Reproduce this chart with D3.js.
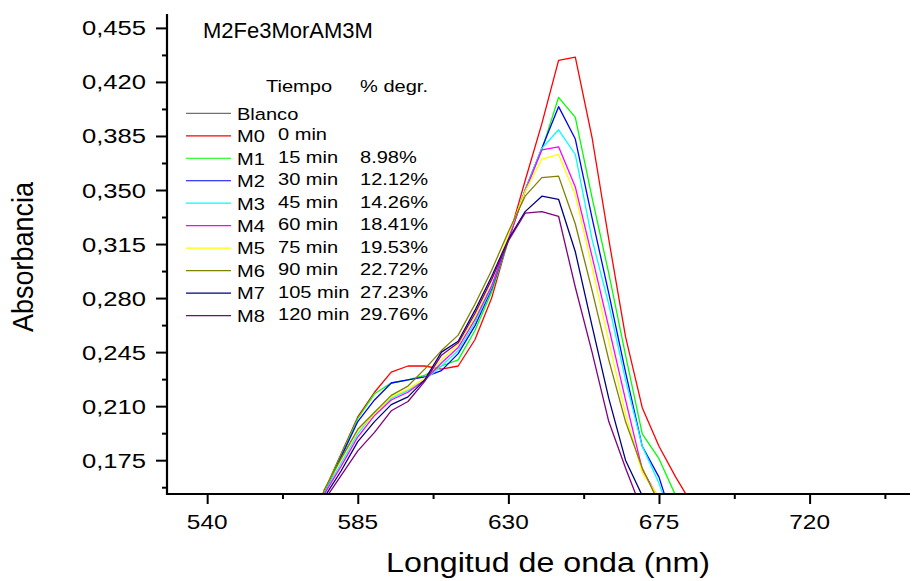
<!DOCTYPE html>
<html>
<head>
<meta charset="utf-8">
<script src="https://cdnjs.cloudflare.com/ajax/libs/d3/7.8.5/d3.min.js"></script>
<style>
  body { margin: 0; background: #fff; }
  text { font-family: "Liberation Sans", Arial, sans-serif; fill: #000; }
</style>
</head>
<body>
<div id="chart"></div>
<script>
// wavelengths (nm) and absorbance of each sample
const wavelengths = [570, 575, 580, 585, 590, 595, 600, 605, 610, 615, 620, 625, 630,
  635, 640, 645, 650, 655, 660, 665, 670, 675, 680, 685, 690];
const m0 = [0.120, 0.155, 0.179, 0.203, 0.219, 0.232, 0.236, 0.236, 0.234, 0.236, 0.253, 0.280, 0.318,
  0.356, 0.393, 0.434, 0.436, 0.384, 0.318, 0.255, 0.209, 0.184, 0.164, 0.146, 0.130];
const m1 = [0.120, 0.155, 0.178, 0.202, 0.218, 0.225, 0.227, 0.230, 0.236, 0.240, 0.259, 0.284, 0.317,
  0.350, 0.376, 0.410, 0.397, 0.345, 0.296, 0.243, 0.192, 0.176, 0.152, 0.130, 0.120];
const m2 = [0.120, 0.154, 0.177, 0.200, 0.214, 0.225, 0.227, 0.229, 0.233, 0.244, 0.262, 0.286, 0.318,
  0.350, 0.377, 0.404, 0.383, 0.332, 0.283, 0.232, 0.184, 0.164, 0.130, 0.120, 0.120];
const m3 = [0.120, 0.154, 0.173, 0.192, 0.206, 0.215, 0.220, 0.227, 0.236, 0.246, 0.264, 0.287, 0.319,
  0.350, 0.377, 0.389, 0.373, 0.318, 0.276, 0.227, 0.184, 0.160, 0.130, 0.120, 0.120];
const m4 = [0.120, 0.153, 0.171, 0.190, 0.204, 0.214, 0.219, 0.227, 0.238, 0.248, 0.266, 0.288, 0.318,
  0.349, 0.376, 0.378, 0.352, 0.307, 0.261, 0.214, 0.169, 0.150, 0.120, 0.120, 0.120];
const m5 = [0.120, 0.156, 0.175, 0.194, 0.205, 0.216, 0.221, 0.228, 0.240, 0.250, 0.268, 0.291, 0.321,
  0.349, 0.370, 0.373, 0.347, 0.300, 0.252, 0.205, 0.167, 0.151, 0.120, 0.120, 0.120];
const m6 = [0.120, 0.156, 0.176, 0.195, 0.206, 0.217, 0.223, 0.234, 0.246, 0.256, 0.276, 0.298, 0.323,
  0.346, 0.358, 0.359, 0.328, 0.285, 0.240, 0.200, 0.170, 0.147, 0.120, 0.120, 0.120];
const m7 = [0.120, 0.151, 0.168, 0.187, 0.200, 0.211, 0.216, 0.227, 0.245, 0.252, 0.272, 0.294, 0.318,
  0.336, 0.346, 0.344, 0.310, 0.262, 0.215, 0.175, 0.152, 0.120, 0.120, 0.120, 0.120];
const m8 = [0.120, 0.149, 0.165, 0.181, 0.193, 0.207, 0.213, 0.226, 0.243, 0.251, 0.270, 0.292, 0.317,
  0.335, 0.336, 0.333, 0.287, 0.245, 0.200, 0.170, 0.142, 0.120, 0.120, 0.120, 0.120];

// legend rows
const labels = ["Blanco", "M0", "M1", "M2", "M3", "M4", "M5", "M6", "M7", "M8"];
const times = ["", "0 min", "15 min", "30 min", "45 min", "60 min", "75 min", "90 min", "105 min", "120 min"];
const degr = ["", "", "8.98%", "12.12%", "14.26%", "18.41%", "19.53%", "22.72%", "27.23%", "29.76%"];
const colors = ["#707070", "#ff0000", "#00ff00", "#0000ff", "#00ffff", "#ff00ff", "#ffff00",
  "#808000", "#000080", "#800080"];

const yTicks = [0.175, 0.21, 0.245, 0.28, 0.315, 0.35, 0.385, 0.42, 0.455];
const xTicks = [540, 585, 630, 675, 720];

const series = [null, m0, m1, m2, m3, m4, m5, m6, m7, m8];

const W = 912, H = 581;
const plot = { left: 167, right: 910, top: 14, bottom: 494 };

const svg = d3.select("#chart").append("svg")
  .attr("width", W).attr("height", H)
  .style("background", "#fff");

const x = d3.scaleLinear().domain([528, 750]).range([plot.left, plot.right]);
const y = d3.scaleLinear().domain([0.1531, 0.464]).range([plot.bottom, plot.top]);

// text that is a bit wider than the font, as in the original export
function stretchText(parent, px, py, str, size, sx, anchor) {
  return parent.append("text")
    .attr("transform", "translate(" + px + "," + py + ") scale(" + sx + ",1)")
    .attr("text-anchor", anchor || "start")
    .attr("font-size", size)
    .text(str);
}

svg.append("clipPath").attr("id", "clip")
  .append("rect")
  .attr("x", plot.left).attr("y", 0)
  .attr("width", plot.right - plot.left).attr("height", plot.bottom);

// curves
const line = d3.line()
  .x(function (d, i) { return x(wavelengths[i]); })
  .y(function (d) { return y(d); });

svg.append("g").attr("clip-path", "url(#clip)")
  .selectAll("path")
  .data(series.slice(1))
  .enter()
  .append("path")
  .attr("d", line)
  .attr("fill", "none")
  .attr("stroke", function (d, i) { return colors[i + 1]; })
  .attr("stroke-width", 1.3)
  .attr("stroke-linejoin", "round");

// y axis
const yMinor = d3.range(0.1575, 0.46, 0.035);
const yAxis = svg.append("g").attr("transform", "translate(" + plot.left + ",0)");
yAxis.append("g")
  .call(d3.axisLeft(y).tickValues(yMinor).tickSize(5).tickFormat(""))
  .call(function (g) { g.select(".domain").remove(); });
yAxis.append("g")
  .call(d3.axisLeft(y).tickValues(yTicks).tickSize(11).tickFormat(""))
  .call(function (g) { g.select(".domain").remove(); });
yAxis.selectAll("line").attr("stroke", "#000").attr("stroke-width", 2);
yAxis.append("line")
  .attr("x1", 0).attr("x2", 0)
  .attr("y1", plot.top).attr("y2", plot.bottom + 1)
  .attr("stroke", "#000").attr("stroke-width", 2.2);
yTicks.forEach(function (t) {
  stretchText(svg, 146, y(t) + 7.5, d3.format(".3f")(t).replace(".", ","), 21, 1.22, "end");
});

// x axis
const xMinor = d3.range(562.5, 750, 45);
const xAxis = svg.append("g").attr("transform", "translate(0," + plot.bottom + ")");
xAxis.append("g")
  .call(d3.axisBottom(x).tickValues(xMinor).tickSize(5).tickFormat(""))
  .call(function (g) { g.select(".domain").remove(); });
xAxis.append("g")
  .call(d3.axisBottom(x).tickValues(xTicks).tickSize(10).tickFormat(""))
  .call(function (g) { g.select(".domain").remove(); });
xAxis.selectAll("line").attr("stroke", "#000").attr("stroke-width", 2);
xAxis.append("line")
  .attr("x1", plot.left - 1).attr("x2", plot.right)
  .attr("y1", 0).attr("y2", 0)
  .attr("stroke", "#000").attr("stroke-width", 2.2);
xTicks.forEach(function (t) {
  stretchText(svg, x(t), 529, t, 20, 1.22, "middle");
});

// axis titles
stretchText(svg, 548, 571.5, "Longitud de onda (nm)", 28, 1.15, "middle");
svg.append("text")
  .attr("transform", "translate(33,257) rotate(-90) scale(1,1.12)")
  .attr("text-anchor", "middle")
  .attr("font-size", 27)
  .text("Absorbancia");

// title
svg.append("text")
  .attr("x", 203).attr("y", 37.5)
  .attr("font-size", 22)
  .text("M2Fe3MorAM3M");

// legend
const lg = svg.append("g");
stretchText(lg, 266, 92.3, "Tiempo", 17, 1.18);
stretchText(lg, 360, 92.3, "% degr.", 17, 1.18);
labels.forEach(function (lab, i) {
  const ly = 113.3 + i * 22.48;
  lg.append("line")
    .attr("x1", 186).attr("x2", 231)
    .attr("y1", ly).attr("y2", ly)
    .attr("stroke", colors[i]).attr("stroke-width", 1.2);
  stretchText(lg, 237, ly + 6.3, lab, 17, 1.18);
  if (times[i]) stretchText(lg, 278, ly + 4.5, times[i], 17, 1.18);
  if (degr[i]) stretchText(lg, 360, ly + 4.5, degr[i], 17, 1.18);
});
</script>
</body>
</html>
